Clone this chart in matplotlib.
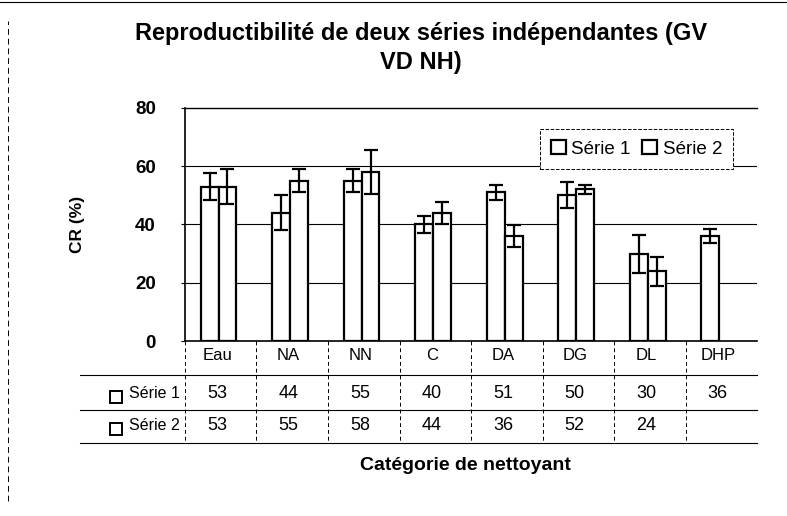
import numpy as np
import matplotlib
matplotlib.use("Agg")
import matplotlib.pyplot as plt
from matplotlib.lines import Line2D

plt.rcParams['font.family'] = ['Liberation Sans', 'DejaVu Sans']

categories = ["Eau", "NA", "NN", "C", "DA", "DG", "DL", "DHP"]
serie1 = [53, 44, 55, 40, 51, 50, 30, 36]
serie2 = [53, 55, 58, 44, 36, 52, 24, np.nan]
err1 = [4.5, 6, 4, 3, 2.7, 4.5, 6.5, 2.3]
err2 = [6, 4, 7.5, 3.7, 3.7, 1.5, 5, np.nan]
series_names = ["Série 1", "Série 2"]
y_ticks = [0, 20, 40, 60, 80]

fig = plt.figure(figsize=(7.87, 5.16), dpi=100)
ax = fig.add_axes([0.235, 0.339, 0.727, 0.452])

x = np.arange(len(categories))
w = 0.25
bar_kw = dict(width=w, color="white", edgecolor="black", linewidth=1.6, zorder=2)
err_kw = dict(ecolor="black", elinewidth=1.6, capsize=5, capthick=1.6, zorder=3)
b1 = ax.bar(x - w / 2 - 0.03, serie1, yerr=err1, error_kw=err_kw, **bar_kw)
b2 = ax.bar(x + w / 2 - 0.03, serie2, yerr=err2, error_kw=err_kw, **bar_kw)

ax.set_xlim(-0.5, len(categories) - 0.5)
ax.set_ylim(0, 80)
ax.set_yticks(y_ticks)
ax.set_yticklabels([str(t) for t in y_ticks], fontsize=13.5, fontweight="bold")
ax.set_xticks([])
for t in y_ticks[1:-1]:
    ax.axhline(t, color="black", lw=0.8, zorder=1)
ax.spines["right"].set_visible(False)
ax.spines["top"].set_linewidth(1.0)
ax.spines["left"].set_linewidth(1.2)
ax.spines["bottom"].set_linewidth(1.2)
ax.tick_params(axis="y", length=3, pad=18)

ax.set_ylabel("CR (%)", fontsize=12.5, fontweight="bold", labelpad=36)

# data table under the axis
tr = ax.get_xaxis_transform()
row_lines = [-0.146, -0.296, -0.438]
for yl in row_lines:
    ax.add_line(Line2D([-1.97, len(categories) - 0.5], [yl, yl], transform=tr,
                       color="black", lw=0.8, clip_on=False))
for b in np.arange(-0.5, len(categories) - 1, 1.0):
    ax.add_line(Line2D([b, b], [0, row_lines[-1]], transform=tr, color="black",
                       lw=0.7, ls=(0, (4, 3)), clip_on=False))

for i, c in enumerate(categories):
    ax.text(i - 0.05, -0.06, c, transform=tr, ha="center", va="center", fontsize=12)
    ax.text(i - 0.05, -0.223, f"{serie1[i]:.0f}", transform=tr, ha="center", va="center", fontsize=13)
    if not np.isnan(serie2[i]):
        ax.text(i - 0.05, -0.36, f"{serie2[i]:.0f}", transform=tr, ha="center", va="center", fontsize=13)

for yr, name in zip([-0.223, -0.36], series_names):
    ax.text(-0.57, yr, name, transform=tr, ha="right", va="center", fontsize=11.5)
    ax.plot([-1.47], [yr - 0.015], marker="s", ms=8, mfc="white", mec="black",
            mew=1.4, transform=tr, clip_on=False)

ax.text(0.49, -0.532, "Catégorie de nettoyant", transform=ax.transAxes,
        ha="center", va="center", fontsize=14, fontweight="bold")

leg = ax.legend([b1, b2], series_names, loc="upper right", bbox_to_anchor=(0.975, 0.95),
                ncol=2, fontsize=13.5, handlelength=0.8, handleheight=0.8,
                handletextpad=0.3, columnspacing=0.6, fancybox=False,
                borderpad=0.6, framealpha=1)
leg.get_frame().set_edgecolor("black")
leg.get_frame().set_linewidth(0.7)
leg.get_frame().set_linestyle("--")

fig.text(0.535, 0.935, "Reproductibilité de deux séries indépendantes (GV",
         ha="center", va="center", fontsize=17, fontweight="bold")
fig.text(0.535, 0.878, "VD NH)", ha="center", va="center", fontsize=17, fontweight="bold")

# chart area border (left and top)
fig.add_artist(Line2D([0.01, 0.01], [0.03, 0.96], transform=fig.transFigure,
                      color="black", lw=0.7, ls=(0, (6, 4))))
fig.add_artist(Line2D([0.0, 1.0], [0.997, 0.997], transform=fig.transFigure,
                      color="black", lw=0.8))

fig.savefig("out.png", dpi=100)
